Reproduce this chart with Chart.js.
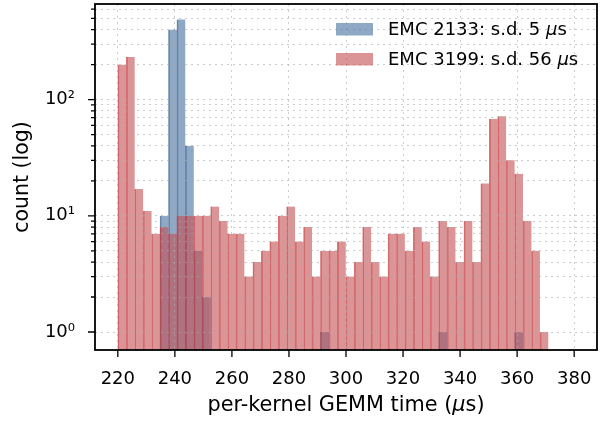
<!DOCTYPE html>
<html>
<head>
<meta charset="utf-8">
<script src="https://cdn.jsdelivr.net/npm/chart.js@4.4.1/dist/chart.umd.min.js"></script>
<style>
  html, body { margin: 0; padding: 0; background: #fff; }
  canvas { display: block; }
</style>
</head>
<body>
<canvas id="hist" width="600" height="421"></canvas>
<script>
// histogram binning shared by both runs
const binStart = 220;
const binWidth = 2.96;

// counts per bin (51 bins)
const countsEmc2133 = [0, 0, 0, 0, 0, 10, 400, 490, 40, 5, 2, 0, 0, 0, 0, 0, 0, 0, 0, 0, 0, 0, 0, 0, 1,
  0, 0, 0, 0, 0, 0, 0, 0, 0, 0, 0, 0, 0, 1, 0, 0, 0, 0, 0, 0, 0, 0, 1, 0, 0, 0];
const countsEmc3199 = [200, 233, 17, 11, 7, 8, 7, 10, 10, 10, 10, 12, 9, 7, 7, 3, 4, 5, 6, 10, 12, 6, 8, 3, 5,
  5, 6, 3, 4, 8, 4, 3, 7, 7, 5, 8, 6, 3, 9, 8, 4, 9, 4, 19, 68, 72, 30, 23, 9, 5, 1];

const seriesLabels = ['EMC 2133: s.d. 5 μs', 'EMC 3199: s.d. 56 μs'];
const seriesColors = ['rgba(67, 110, 160, 0.6)', 'rgba(196, 78, 82, 0.6)'];
const seriesEdges = ['rgba(50, 90, 140, 0.7)', 'rgba(200, 55, 60, 0.7)'];

const xTicks = [220, 240, 260, 280, 300, 320, 340, 360, 380];
const yTicks = [1, 2, 3, 4, 5, 6, 7, 8, 9, 10, 20, 30, 40, 50, 60, 70, 80, 90, 100, 200, 300, 400, 500, 600];

const xTitle = 'per-kernel GEMM time (μs)';
const yTitle = 'count (log)';

const FONT = '"DejaVu Sans", sans-serif';
const SUP = ['⁰', '¹', '²', '³'];

const isDecade = v => {
  const e = Math.log10(v);
  return Math.abs(e - Math.round(e)) < 1e-9;
};

const toPoints = counts => counts.map((c, i) => ({
  x: binStart + (i + 0.5) * binWidth,
  y: c > 0 ? c : null
}));

// draws a string with every "μ" in italic
const drawMixed = (ctx, text, x, y, size, align) => {
  const parts = text.split(/(μ)/).filter(p => p.length);
  const fontFor = p => (p === 'μ' ? 'italic ' : '') + size + 'px ' + FONT;
  let total = 0;
  parts.forEach(p => { ctx.font = fontFor(p); total += ctx.measureText(p).width; });
  let cx = align === 'center' ? x - total / 2 : x;
  ctx.textAlign = 'left';
  parts.forEach(p => {
    ctx.font = fontFor(p);
    ctx.fillText(p, cx, y);
    cx += ctx.measureText(p).width;
  });
};

const axesFrame = {
  id: 'axesFrame',
  afterDraw(chart) {
    const { ctx, chartArea: a, scales: { x, y } } = chart;
    ctx.save();
    ctx.strokeStyle = '#000';
    ctx.lineWidth = 1.3;
    ctx.beginPath();
    x.ticks.forEach(t => {
      const px = x.getPixelForValue(t.value);
      ctx.moveTo(px, a.bottom);
      ctx.lineTo(px, a.bottom + 7);
    });
    y.ticks.forEach(t => {
      const py = y.getPixelForValue(t.value);
      ctx.moveTo(a.left, py);
      ctx.lineTo(a.left - (isDecade(t.value) ? 7 : 4), py);
    });
    ctx.stroke();
    ctx.lineWidth = 1.8;
    ctx.strokeRect(a.left, a.top, a.right - a.left, a.bottom - a.top);

    ctx.fillStyle = '#000';
    ctx.textBaseline = 'alphabetic';
    drawMixed(ctx, xTitle, (a.left + a.right) / 2, 411, 20.8, 'center');

    // legend, top right inside the axes
    seriesLabels.forEach((label, i) => {
      const top = a.top + 19 + i * 30;
      ctx.fillStyle = seriesColors[i];
      ctx.fillRect(a.right - 261, top, 37, 12.5);
      ctx.fillStyle = '#000';
      drawMixed(ctx, label, a.right - 209, top + 12, 18, 'left');
    });
    ctx.restore();
  }
};

const gridStyle = {
  z: 1,
  color: 'rgba(170, 170, 170, 0.6)',
  lineWidth: 1,
  drawTicks: false
};

const barEdge = { top: 0, right: 0, bottom: 0, left: 1 };

new Chart(document.getElementById('hist'), {
  type: 'bar',
  data: {
    datasets: [
      { label: seriesLabels[0], data: toPoints(countsEmc2133), backgroundColor: seriesColors[0],
        borderColor: seriesEdges[0], borderWidth: barEdge, borderSkipped: false, order: 1 },
      { label: seriesLabels[1], data: toPoints(countsEmc3199), backgroundColor: seriesColors[1],
        borderColor: seriesEdges[1], borderWidth: barEdge, borderSkipped: false, order: 0 }
    ]
  },
  options: {
    responsive: false,
    animation: false,
    devicePixelRatio: 1,
    layout: { autoPadding: false, padding: { top: 4, right: 3, left: 0, bottom: 0 } },
    datasets: {
      bar: { barPercentage: 1, categoryPercentage: 1, grouped: false }
    },
    plugins: {
      legend: { display: false },
      tooltip: { enabled: false }
    },
    scales: {
      x: {
        type: 'linear',
        offset: false,
        min: 212,
        max: 388,
        afterBuildTicks: s => { s.ticks = xTicks.map(v => ({ value: v })); },
        afterFit: s => {
          s.height = 71;
          s.paddingLeft = 0;
          s.paddingRight = 0;
        },
        grid: { ...gridStyle, offset: false },
        border: { display: false, dash: [2, 4] },
        ticks: {
          autoSkip: false,
          maxRotation: 0,
          padding: 19,
          color: '#000',
          font: { family: FONT, size: 18 }
        }
      },
      y: {
        type: 'logarithmic',
        min: 0.72,
        max: 665,
        afterBuildTicks: s => { s.ticks = yTicks.map(v => ({ value: v })); },
        afterFit: s => {
          s.width = 95;
          s.paddingTop = 0;
          s.paddingBottom = 0;
        },
        grid: gridStyle,
        border: { display: false, dash: [2, 4] },
        ticks: {
          autoSkip: false,
          padding: 20,
          color: '#000',
          font: { family: FONT, size: 18 },
          callback: v => isDecade(v) ? '10' + SUP[Math.round(Math.log10(v))] : ''
        },
        title: {
          display: true,
          text: yTitle,
          color: '#000',
          font: { family: FONT, size: 20.5 },
          padding: { top: 10, bottom: 0 }
        }
      }
    }
  },
  plugins: [axesFrame]
});
</script>
</body>
</html>
